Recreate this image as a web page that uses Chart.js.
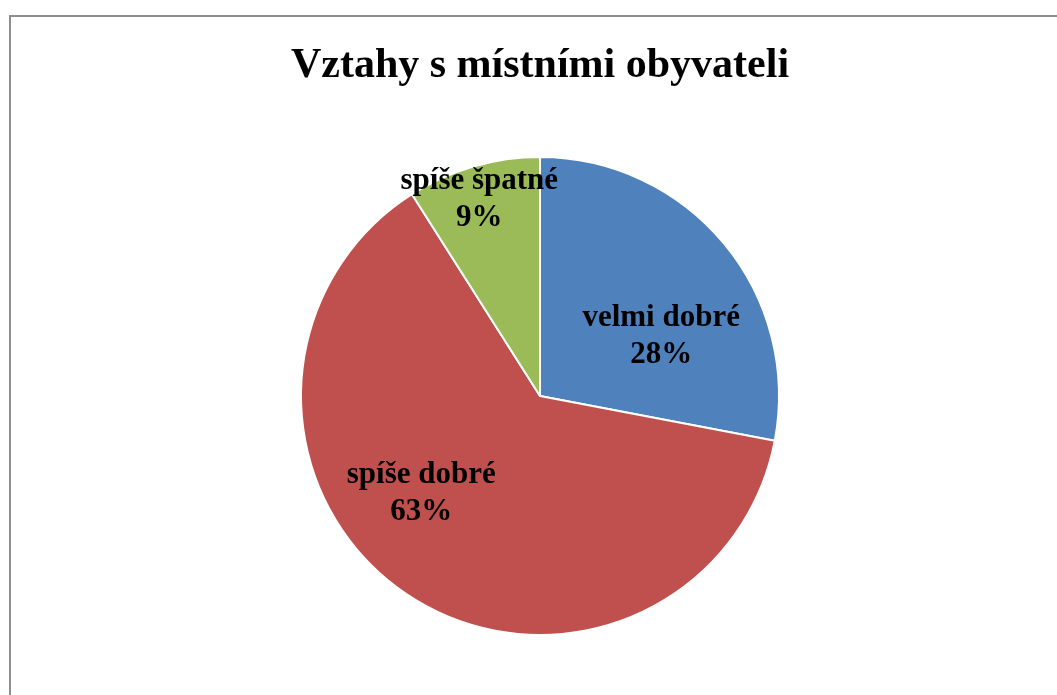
<!DOCTYPE html>
<html>
<head>
<meta charset="utf-8">
<script src="https://cdn.jsdelivr.net/npm/chart.js@4/dist/chart.umd.min.js"></script>
<style>
  html, body { margin: 0; padding: 0; background: #fff; }
  #wrap { position: relative; width: 1057px; height: 695px; overflow: hidden; }
  #frame { position: absolute; left: 9px; top: 15px; width: 1100px; height: 760px;
           border-top: 2px solid #8e8e8e; border-left: 2px solid #8e8e8e; }
  canvas { position: absolute; left: 0; top: 0; }
</style>
</head>
<body>
<div id="wrap">
  <div id="frame"></div>
  <canvas id="c" width="1057" height="695"></canvas>
</div>
<script>
const chartTitle = "Vztahy s místními obyvateli";
const categories = ["velmi dobré", "spíše dobré", "spíše špatné"];
const percentValues = [28, 63, 9];
const sliceColors = ["#4F81BD", "#C0504D", "#9BBB59"];

const labelPlugin = {
  id: 'sliceLabels',
  afterDatasetsDraw(chart, args, opts) {
    const ctx = chart.ctx;
    const meta = chart.getDatasetMeta(0);
    ctx.save();
    ctx.fillStyle = '#000';
    ctx.font = 'bold ' + opts.size + 'px "Liberation Serif", "Times New Roman", serif';
    ctx.textAlign = 'center';
    ctx.textBaseline = 'alphabetic';
    meta.data.forEach((arc, i) => {
      const r = arc.outerRadius;
      const off = opts.offsets[i];
      const x = arc.x + off[0] * r;
      const y = arc.y + off[1] * r;
      const lh = opts.lineHeight;
      ctx.fillText(chart.data.labels[i], x, y - lh / 2);
      ctx.fillText(chart.data.datasets[0].data[i] + '%', x, y + lh / 2);
    });
    ctx.restore();
  }
};

new Chart(document.getElementById('c'), {
  type: 'pie',
  data: {
    labels: categories,
    datasets: [{
      data: percentValues,
      backgroundColor: sliceColors,
      borderColor: '#ffffff',
      borderWidth: 2
    }]
  },
  options: {
    responsive: false,
    animation: false,
    layout: { padding: { left: 23, right: 0, top: 0, bottom: 59 } },
    plugins: {
      legend: { display: false },
      tooltip: { enabled: false },
      title: {
        display: true,
        text: chartTitle,
        color: '#000',
        font: { family: '"Liberation Serif", "Times New Roman", serif', size: 42, weight: 'bold', lineHeight: 48/42 },
        padding: { top: 42, bottom: 66 }
      },
      sliceLabels: {
        size: 31,
        lineHeight: 37,
        offsets: [[0.507, -0.215], [-0.497, 0.440], [-0.254, -0.79]]
      }
    }
  },
  plugins: [labelPlugin]
});
</script>
</body>
</html>
